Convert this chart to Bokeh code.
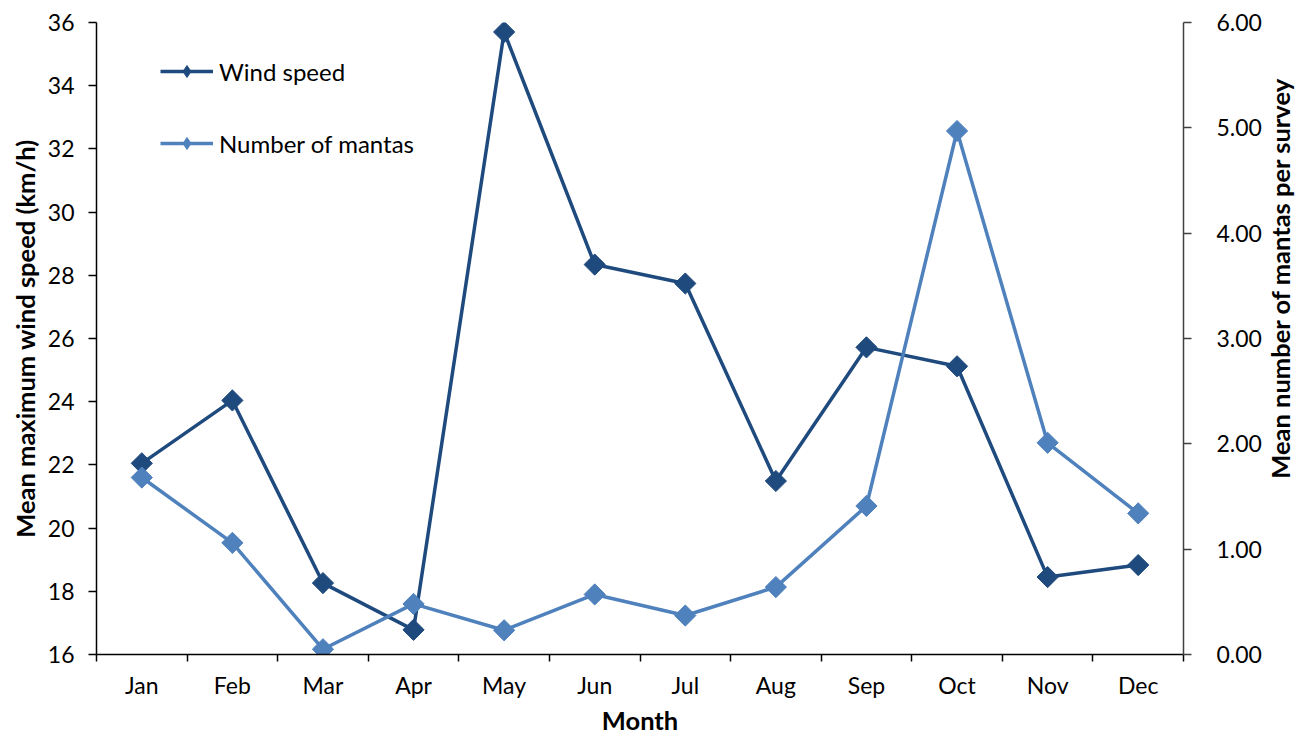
import math
from bokeh.plotting import figure
from bokeh.layouts import row
from bokeh.models import (Range1d, LinearAxis, FixedTicker, NumeralTickFormatter,
                          Legend, LegendItem, ColumnDataSource)
from bokeh.core.properties import value
from bokeh.embed import file_html
from bokeh.resources import INLINE

months = ["Jan", "Feb", "Mar", "Apr", "May", "Jun", "Jul", "Aug", "Sep", "Oct", "Nov", "Dec"]
wind_speed = [22.05, 24.04, 18.26, 16.78, 35.70, 28.34, 27.74, 21.49, 25.72, 25.12, 18.45, 18.83]
mantas = [1.68, 1.06, 0.05, 0.48, 0.23, 0.57, 0.37, 0.64, 1.41, 4.97, 2.01, 1.34]
left_ticks = [16, 18, 20, 22, 24, 26, 28, 30, 32, 34, 36]
right_ticks = [0, 1, 2, 3, 4, 5, 6]

DARK = "#1F4A7E"
LIGHT = "#4F81BD"
FONT = "Lato"
TICK_SIZE = "23px"
TITLE_SIZE = "25.5px"
H = 737
MAIN_W = 1264
SIDE_W = 42

xs = list(range(1, len(months) + 1))
src = ColumnDataSource(dict(x=xs, wind=wind_speed, mantas=mantas))

p = figure(width=MAIN_W, height=H, output_backend="svg", toolbar_location=None,
           x_range=Range1d(0.5, 12.5), y_range=Range1d(16, 36),
           min_border_left=96, min_border_right=MAIN_W - 1183, min_border_top=22,
           min_border_bottom=81)
p.extra_y_ranges = {"mantas": Range1d(0, 6)}
p.outline_line_color = None
p.xgrid.visible = False
p.ygrid.visible = False

# x axis: labels at month centres, tick marks at month boundaries
xa = p.xaxis[0]
xa.ticker = FixedTicker(ticks=xs, minor_ticks=[i + 0.5 for i in range(0, 13)])
xa.major_label_overrides = {i + 1: m for i, m in enumerate(months)}
xa.major_tick_out = 0
xa.major_tick_in = 0
xa.minor_tick_out = 7
xa.minor_tick_in = 0
xa.minor_tick_line_color = "black"
xa.minor_tick_line_width = 1.5
xa.axis_line_color = "black"
xa.axis_line_width = 1.5
xa.major_label_text_font = FONT
xa.major_label_text_font_size = TICK_SIZE
xa.major_label_text_color = "black"
xa.major_label_standoff = 9
xa.axis_label = "Month"
xa.axis_label_text_font = FONT
xa.axis_label_text_font_style = "bold"
xa.axis_label_text_font_size = TITLE_SIZE
xa.axis_label_text_color = "black"
xa.axis_label_standoff = 3

ya = p.yaxis[0]
ya.ticker = FixedTicker(ticks=left_ticks, minor_ticks=[])
ya.major_tick_out = 8
ya.major_tick_in = 0
ya.major_tick_line_width = 1.5
ya.axis_line_width = 1.5
ya.axis_line_color = "black"
ya.major_label_text_font = FONT
ya.major_label_text_font_size = TICK_SIZE
ya.major_label_text_color = "black"
ya.major_label_standoff = 14
ya.axis_label = "Mean maximum wind speed (km/h)"
ya.axis_label_text_font = FONT
ya.axis_label_text_font_style = "bold"
ya.axis_label_text_font_size = TITLE_SIZE
ya.axis_label_text_color = "black"
ya.axis_label_standoff = 5

ra = LinearAxis(y_range_name="mantas", ticker=FixedTicker(ticks=right_ticks, minor_ticks=[]),
                formatter=NumeralTickFormatter(format="0.00"))
ra.major_tick_out = 8
ra.major_tick_in = 0
ra.major_tick_line_width = 1.5
ra.major_tick_line_color = "#404040"
ra.axis_line_width = 1.5
ra.axis_line_color = "#404040"
ra.major_label_text_font = FONT
ra.major_label_text_font_size = TICK_SIZE
ra.major_label_text_color = "black"
ra.major_label_standoff = 25
p.add_layout(ra, "right")

# series
l1 = p.line("x", "wind", source=src, line_color=DARK, line_width=3.5)
d1 = p.scatter("x", "wind", source=src, marker="diamond", size=14,
               fill_color=DARK, line_color=DARK)
m1 = p.scatter("x", "wind", source=src, marker="square", angle=math.pi / 4, size=15,
               fill_color=DARK, line_color=DARK)
l2 = p.line("x", "mantas", source=src, line_color=LIGHT, line_width=3.5, y_range_name="mantas")
d2 = p.scatter("x", "mantas", source=src, marker="diamond", size=14,
               fill_color=LIGHT, line_color=LIGHT, y_range_name="mantas")
m2 = p.scatter("x", "mantas", source=src, marker="square", angle=math.pi / 4, size=15,
               fill_color=LIGHT, line_color=LIGHT, y_range_name="mantas")

legend = Legend(items=[LegendItem(label="Wind speed", renderers=[l1, d1]),
                       LegendItem(label="Number of mantas", renderers=[l2, d2])],
                location=(64, 496), orientation="vertical")
legend.padding = 0
legend.margin = 0
legend.spacing = 42
legend.glyph_width = 53
legend.glyph_height = 30
legend.label_height = 30
legend.label_standoff = 6
legend.label_text_font = FONT
legend.label_text_font_size = "24px"
legend.label_text_color = "black"
legend.border_line_alpha = 0
legend.background_fill_alpha = 0
p.add_layout(legend)

# right-hand axis title (reads bottom-to-top), drawn in a narrow side panel
right_title = ["Mean number of mantas per survey"]
side = figure(width=SIDE_W, height=H, output_backend="svg", toolbar_location=None,
              x_range=Range1d(0, SIDE_W), y_range=Range1d(0, H),
              x_axis_location=None, y_axis_location=None,
              min_border_left=0, min_border_right=0, min_border_top=0, min_border_bottom=0)
side.outline_line_color = None
side.xgrid.visible = False
side.ygrid.visible = False
side.text(x=[1279 - MAIN_W], y=[H - 298], text=right_title, angle=math.pi / 2,
          text_align="center", text_baseline="middle", text_font=value(FONT),
          text_font_style="bold", text_font_size=value(TITLE_SIZE), text_color="black")

layout = row(p, side)
open("out.html", "w").write(file_html(layout, INLINE))
